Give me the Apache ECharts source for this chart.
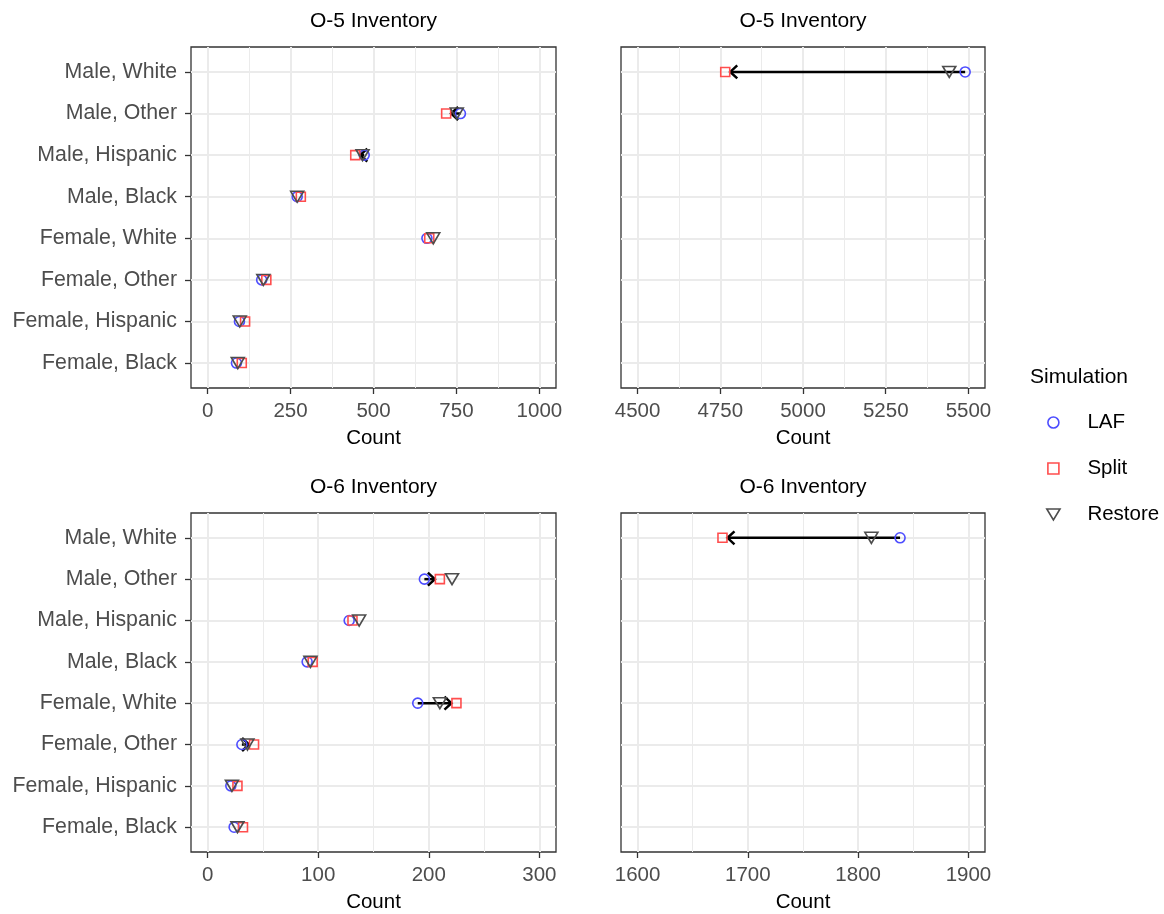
<!DOCTYPE html>
<html><head><meta charset="utf-8">
<script src="https://cdn.jsdelivr.net/npm/echarts@6/dist/echarts.min.js"></script>
<style>html,body{margin:0;padding:0;background:#fff}#c{width:1164px;height:914px}</style>
</head><body><div id="c"></div>
<script>
// ---------- data ----------
const categories = ["Male, White", "Male, Other", "Male, Hispanic", "Male, Black",
                    "Female, White", "Female, Other", "Female, Hispanic", "Female, Black"];
const simulations = ["LAF", "Split", "Restore"];
const panelTitles = ["O-5 Inventory", "O-6 Inventory"];
const axisTitle = "Count";
const legendTitle = "Simulation";

const o5LAF     = [5490, 762, 472, 270, 661, 163,  96,  87];
const o5Split   = [4765, 719, 445, 281, 668, 177, 113, 103];
const o5Restore = [5442, 751, 467, 270, 680, 168,  97,  91];

const o6LAF     = [1838, 196, 128,  90, 190,  31,  21,  24];
const o6Split   = [1677, 210, 131,  95, 225,  42,  27,  32];
const o6Restore = [1812, 221, 137,  93, 210,  36,  22,  27];

const tlTicks = [0, 250, 500, 750, 1000];
const tlMinor = [125, 375, 625, 875];
const trTicks = [4500, 4750, 5000, 5250, 5500];
const trMinor = [4625, 4875, 5125, 5375];
const blTicks = [0, 100, 200, 300];
const blMinor = [50, 150, 250];
const brTicks = [1600, 1700, 1800, 1900];
const brMinor = [1650, 1750, 1850];

// ---------- style ----------
const FONT = "'Liberation Sans', Arial, Helvetica, sans-serif";
const COLORS = { LAF: "#4d4dff", Split: "#ff4d4d", Restore: "#4d4d4d" };
const GRID_COL = "#ebebeb";
const BORDER_COL = "#333333";

const panels = [
  { grid: { left: 191, top: 47, width: 365, height: 341 }, ticks: tlTicks, minor: tlMinor, laf: o5LAF, split: o5Split, restore: o5Restore, showY: true,  title: panelTitles[0] },
  { grid: { left: 621, top: 47, width: 364, height: 341 }, ticks: trTicks, minor: trMinor, laf: o5LAF, split: o5Split, restore: o5Restore, showY: false, title: panelTitles[0] },
  { grid: { left: 191, top: 513, width: 365, height: 340 }, ticks: blTicks, minor: blMinor, laf: o6LAF, split: o6Split, restore: o6Restore, showY: true,  title: panelTitles[1] },
  { grid: { left: 621, top: 513, width: 364, height: 340 }, ticks: brTicks, minor: brMinor, laf: o6LAF, split: o6Split, restore: o6Restore, showY: false, title: panelTitles[1] }
];

const rowIdx = categories.map((_, k) => k);
function extent(t) {
  const span = t[t.length - 1] - t[0];
  return [t[0] - 0.05 * span, t[t.length - 1] + 0.05 * span];
}

const grids = [], xAxes = [], yAxes = [], series = [], graphics = [];

panels.forEach((p, i) => {
  const [mn, mx] = extent(p.ticks);
  const inR = v => v >= mn && v <= mx;
  grids.push(Object.assign({ show: true, borderColor: BORDER_COL, borderWidth: 1.3, backgroundColor: "#fff", containLabel: false }, p.grid));

  xAxes.push({
    type: "value", gridIndex: i, min: mn, max: mx, position: "bottom",
    axisLine: { show: false, onZero: false },
    axisTick: { show: true, length: 6, lineStyle: { color: BORDER_COL, width: 1.3 }, customValues: p.ticks },
    axisLabel: { customValues: p.ticks, formatter: v => String(v), color: "#4d4d4d", fontSize: 20.5, margin: 13, fontFamily: FONT },
    splitLine: { show: true, lineStyle: { color: GRID_COL, width: 2 } },
    name: axisTitle, nameLocation: "middle", nameGap: 40,
    nameTextStyle: { color: "#000", fontSize: 20.5, fontFamily: FONT }
  });
  xAxes.push({
    type: "value", gridIndex: i, min: mn, max: mx, position: "bottom",
    axisLine: { show: false, onZero: false },
    axisTick: { show: false, customValues: p.minor },
    axisLabel: { show: false },
    splitLine: { show: true, lineStyle: { color: GRID_COL, width: 1 } }
  });
  yAxes.push({
    type: "value", gridIndex: i, min: -0.6, max: 7.6, inverse: true, position: "left",
    axisLine: { show: false, onZero: false },
    axisTick: { show: p.showY, length: 6, lineStyle: { color: BORDER_COL, width: 1.3 }, customValues: rowIdx },
    axisLabel: { show: p.showY, customValues: rowIdx, formatter: v => categories[Math.round(v)], color: "#4d4d4d", fontSize: 21.3, margin: 14, fontFamily: FONT },
    splitLine: { show: true, lineStyle: { color: GRID_COL, width: 2 } }
  });

  // arrows LAF -> Split
  const arrowData = [];
  rowIdx.forEach(r => { if (inR(p.laf[r]) && inR(p.split[r])) arrowData.push([p.laf[r], p.split[r], r]); });
  series.push({
    type: "custom", name: "arrows", xAxisIndex: 2 * i, yAxisIndex: i, z: 3,
    encode: { x: [0, 1], y: 2 }, silent: true,
    data: arrowData,
    renderItem: function (params, api) {
      const a = api.coord([api.value(0), api.value(2)]);
      const b = api.coord([api.value(1), api.value(2)]);
      const dx = b[0] - a[0];
      if (Math.abs(dx) < 8.9) return null;
      const dir = dx > 0 ? 1 : -1;
      const tipX = b[0] - dir * 5, y = a[1];
      return {
        type: "group", children: [
          { type: "line", shape: { x1: a[0], y1: y, x2: tipX, y2: y }, style: { stroke: "#000", lineWidth: 2.5 } },
          { type: "polyline", shape: { points: [[tipX - dir * 7, y - 6.5], [tipX, y], [tipX - dir * 7, y + 6.5]] }, style: { stroke: "#000", lineWidth: 2.5, fill: null } }
        ]
      };
    }
  });

  const mk = (name, vals, symbol, size, rot) => {
    const d = [];
    rowIdx.forEach(r => { if (inR(vals[r])) d.push([vals[r], r]); });
    series.push({
      type: "scatter", name: name, xAxisIndex: 2 * i, yAxisIndex: i, z: 4,
      symbol: symbol, symbolSize: size, symbolRotate: rot || 0,
      itemStyle: { color: "rgba(255,255,255,0)", borderColor: COLORS[name], borderWidth: 1.6, opacity: 1 },
      emphasis: { disabled: true },
      data: d
    });
  };
  mk("LAF", p.laf, "circle", 10);
  mk("Split", p.split, "rect", 9);
  mk("Restore", p.restore, "triangle", [13, 11], 180);

  graphics.push({
    type: "text", x: p.grid.left + p.grid.width / 2, y: p.grid.top - 26,
    style: { text: p.title, align: "center", verticalAlign: "middle", fontSize: 21, fontFamily: FONT, fill: "#000" }
  });
});

graphics.push({
  type: "text", x: 1030, y: 377,
  style: { text: legendTitle, align: "left", verticalAlign: "middle", fontSize: 21, fontFamily: FONT, fill: "#000" }
});

const legendIcons = {
  LAF: "circle",
  Split: "path://M0,0 L10,0 L10,10 L0,10 Z",
  Restore: "path://M0,0 L12,0 L6,10 Z"
};

const option = {
  backgroundColor: "#fff",
  animation: false,
  textStyle: { fontFamily: FONT },
  grid: grids,
  xAxis: xAxes,
  yAxis: yAxes,
  series: series,
  graphic: graphics,
  legend: {
    orient: "vertical", left: 1041, top: 407,
    itemWidth: 58, itemHeight: 11, itemGap: 25,
    selectedMode: false, symbolKeepAspect: true,
    textStyle: { fontSize: 20.5, color: "#000", fontFamily: FONT },
    data: simulations.map(s => ({
      name: s, icon: legendIcons[s],
      itemStyle: { color: "rgba(255,255,255,0)", borderColor: COLORS[s], borderWidth: 1.6 }
    }))
  }
};

const chart = echarts.init(document.getElementById("c"), null, { renderer: "canvas" });
chart.setOption(option);
</script>
</body></html>
